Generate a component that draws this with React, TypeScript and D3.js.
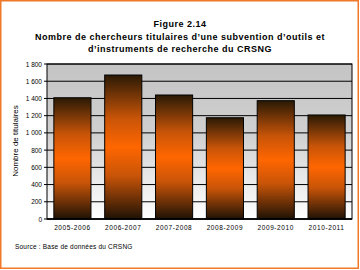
import React from "react";
import * as d3 from "d3";

const categories = ["2005-2006", "2006-2007", "2007-2008", "2008-2009", "2009-2010", "2010-2011"];
const values = [1408, 1672, 1440, 1176, 1374, 1208];
const yTicks = [0, 200, 400, 600, 800, 1000, 1200, 1400, 1600, 1800];
const titleLines = [
  "Figure 2.14",
  "Nombre de chercheurs titulaires d\u2019une subvention d\u2019outils et",
  "d\u2019instruments de recherche du CRSNG",
];
const yTitle = "Nombre de titulaires";
const sourceText = "Source : Base de donn\u00e9es du CRSNG";

const W = 360, H = 270;
const plot = { left: 47, right: 352, top: 64, bottom: 219 };

function fmt(v: number) {
  if (v >= 1000) return Math.floor(v / 1000) + "\u00a0" + String(v % 1000).padStart(3, "0");
  return String(v);
}

export default function App() {
  const x = d3.scaleBand<string>().domain(categories).range([plot.left, plot.right]).paddingInner(0.27).paddingOuter(0.135);
  const y = d3.scaleLinear().domain([0, 1800]).range([plot.bottom, plot.top]);
  const font = "Liberation Sans, Arial, sans-serif";
  return (
    <svg width={W} height={H} style={{ position: "absolute", left: 0, top: 0 }}>
      <defs>
        <linearGradient id="bg" x1="0" y1="0" x2="0" y2="1">
          <stop offset="0" stopColor="#c4c4c4" />
          <stop offset="0.45" stopColor="#d0d0d0" />
          <stop offset="1" stopColor="#ffffff" />
        </linearGradient>
        <linearGradient id="bar" x1="0" y1="0" x2="0" y2="1">
          <stop offset="0" stopColor="#2a1a05" />
          <stop offset="0.3" stopColor="#c85408" />
          <stop offset="0.5" stopColor="#ff6600" />
          <stop offset="0.7" stopColor="#c85408" />
          <stop offset="1" stopColor="#1e1205" />
        </linearGradient>
      </defs>
      <rect x={0} y={0} width={W} height={H} fill="#fff" />
      <rect x={0.75} y={0.75} width={W - 2.5} height={H - 2.5} fill="none" stroke="#f07828" strokeWidth={1.5} />
      {titleLines.map((t, i) => (
        <text key={i} x={180} y={27 + i * 12.5} textAnchor="middle" fontFamily={font} fontWeight="bold" fontSize={9} letterSpacing={0.5} fill="#000">{t}</text>
      ))}
      <rect x={plot.left} y={plot.top} width={plot.right - plot.left} height={plot.bottom - plot.top} fill="url(#bg)" />
      {yTicks.map((t) => (
        <g key={t}>
          <line x1={plot.left} x2={plot.right} y1={y(t)} y2={y(t)} stroke="#000" strokeWidth={1} />
          <line x1={plot.left - 3} x2={plot.left} y1={y(t)} y2={y(t)} stroke="#000" strokeWidth={1} />
          <text x={plot.left - 5} y={y(t) + 2.5} textAnchor="end" fontFamily={font} fontSize={6.5} fill="#000">{fmt(t)}</text>
        </g>
      ))}
      {categories.map((c, i) => (
        <rect key={c} x={x(c)} y={y(values[i])} width={x.bandwidth()} height={plot.bottom - y(values[i])} fill="url(#bar)" stroke="#000" strokeWidth={1} />
      ))}
      <rect x={plot.left} y={plot.top} width={plot.right - plot.left} height={plot.bottom - plot.top} fill="none" stroke="#000" strokeWidth={1} />
      <line x1={plot.left} x2={plot.right} y1={plot.bottom} y2={plot.bottom} stroke="#000" strokeWidth={1.5} />
      {categories.map((c) => (
        <text key={c} x={(x(c) as number) + x.bandwidth() / 2} y={230} textAnchor="middle" fontFamily={font} fontSize={6.5} letterSpacing={0.6} fill="#000">{c}</text>
      ))}
      <text transform={`translate(18,${141}) rotate(-90)`} textAnchor="middle" fontFamily={font} fontSize={8} fill="#000">{yTitle}</text>
      <text x={15} y={249} fontFamily={font} fontSize={6.5} letterSpacing={0.2} fill="#000">{sourceText}</text>
    </svg>
  );
}
